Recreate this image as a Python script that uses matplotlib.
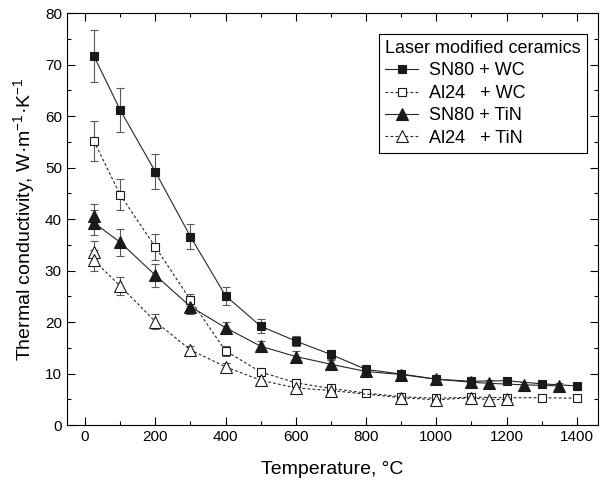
import numpy as np
import matplotlib
matplotlib.use('Agg')
import matplotlib.pyplot as plt
from matplotlib.lines import Line2D
from matplotlib.ticker import MultipleLocator

plt.rcParams['font.family'] = 'Liberation Sans'
plt.rcParams['mathtext.fontset'] = 'custom'
plt.rcParams['mathtext.rm'] = 'Liberation Sans'
plt.rcParams['mathtext.it'] = 'Liberation Sans:italic'

# SN80 + WC
t_sn_wc = [25, 100, 200, 300, 400, 500, 600, 700, 800, 900, 1000, 1100, 1200, 1300, 1400]
k_sn_wc = [71.7, 61.2, 49.2, 36.6, 25.1, 19.2, 16.3, 13.7, 10.8, 9.9, 8.9, 8.5, 8.6, 8.0, 7.6]
e_sn_wc = [5.0, 4.3, 3.4, 2.5, 1.8, 1.3, 1.0, 0.9, 0.7, 0.6, 0.6, 0.6, 0.6, 0.6, 0.5]

# Al24 + WC
t_al_wc = [25, 100, 200, 300, 400, 500, 600, 700, 800, 900, 1000, 1100, 1200, 1300, 1400]
k_al_wc = [55.2, 44.7, 34.6, 24.3, 14.4, 10.3, 8.2, 7.1, 6.2, 5.5, 5.2, 5.4, 5.3, 5.3, 5.2]
e_al_wc = [3.9, 3.0, 2.5, 1.1, 1.0, 0.8, 0.7, 0.6, 0.5, 0.5, 0.5, 0.5, 0.5, 0.5, 0.4]

# SN80 + TiN
t_sn_tin = [25, 25, 100, 200, 300, 400, 500, 600, 700, 800, 900, 1000, 1100, 1150, 1250, 1350]
k_sn_tin = [40.6, 39.3, 35.5, 29.1, 23.0, 18.9, 15.3, 13.3, 11.8, 10.4, 9.8, 8.9, 8.3, 8.1, 7.8, 7.6]
e_sn_tin = [2.4, 2.4, 2.6, 2.2, 1.5, 1.1, 1.0, 1.0, 0.8, 0.6, 0.6, 0.6, 0.6, 0.6, 0.5, 0.5]

# Al24 + TiN
t_al_tin = [25, 25, 100, 200, 300, 400, 500, 600, 700, 900, 1000, 1100, 1150, 1200]
k_al_tin = [33.7, 32.0, 27.0, 20.1, 14.6, 11.3, 8.7, 7.2, 6.7, 5.3, 4.9, 5.3, 4.9, 5.0]
e_al_tin = [2.0, 2.0, 1.8, 1.4, 0.8, 0.8, 0.8, 0.7, 0.6, 0.6, 0.6, 0.6, 0.6, 0.6]

labels = ['SN80 + WC', 'Al24   + WC', 'SN80 + TiN', 'Al24   + TiN']

fig = plt.figure(figsize=(6.07, 4.86), dpi=100)
ax = fig.add_axes([0.110, 0.1255, 0.875, 0.8475])

err_kw = dict(ecolor='0.35', elinewidth=0.8, capsize=3, capthick=0.8)
dash = (0, (2.5, 2))
styles = [
    dict(ls='-', marker='s', ms=6, mfc='0.1'),
    dict(ls=dash, marker='s', ms=6, mfc='white'),
    dict(ls='-', marker='^', ms=8, mfc='0.1'),
    dict(ls=dash, marker='^', ms=8, mfc='white'),
]
series = [(t_sn_wc, k_sn_wc, e_sn_wc), (t_al_wc, k_al_wc, e_al_wc),
          (t_sn_tin, k_sn_tin, e_sn_tin), (t_al_tin, k_al_tin, e_al_tin)]

handles = []
for (t, k, e), st, lab in zip(series, styles, labels):
    ax.errorbar(t, k, yerr=e, color='0.15', lw=0.8, mec='0.1', mew=0.8, **st, **err_kw)
    handles.append(Line2D([], [], color='0.15', lw=0.8, mec='0.1', mew=0.8, label=lab, **st))

ax.set_xlim(-52, 1460)
ax.set_ylim(0, 80)
ax.xaxis.set_major_locator(MultipleLocator(200))
ax.xaxis.set_minor_locator(MultipleLocator(100))
ax.yaxis.set_major_locator(MultipleLocator(10))
ax.yaxis.set_minor_locator(MultipleLocator(5))
ax.tick_params(which='both', direction='in', top=True, right=True, labelsize=11, width=0.8)
ax.tick_params(which='major', length=6)
ax.tick_params(which='minor', length=3)
for s in ax.spines.values():
    s.set_linewidth(0.8)

ax.set_xlabel('Temperature, °C', fontsize=14, labelpad=12)
ax.set_ylabel('Thermal conductivity, W·m$^{\\mathregular{-1}}$·K$^{\\mathregular{-1}}$',
              fontsize=14, labelpad=6)

leg = ax.legend(handles=handles, loc='upper right', bbox_to_anchor=(0.98, 0.95),
                borderaxespad=0, title='Laser modified ceramics', title_fontsize=13,
                fontsize=13, fancybox=False, edgecolor='black', framealpha=1,
                handlelength=1.8, handletextpad=0.6, labelspacing=0.3, borderpad=0.35,
                alignment='left')
leg.get_frame().set_linewidth(0.8)

fig.savefig('out.png', dpi=100)
